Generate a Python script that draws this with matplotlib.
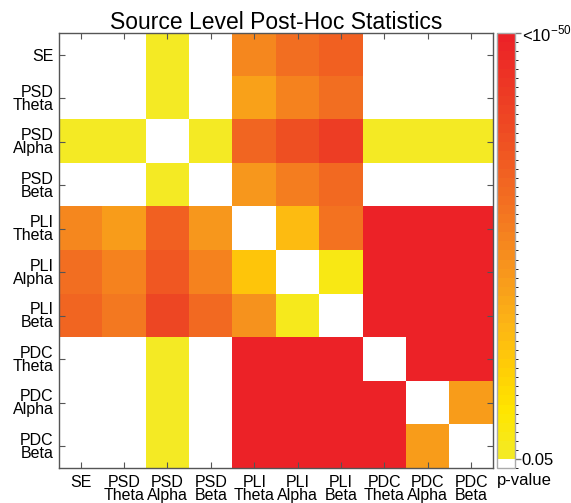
import matplotlib
matplotlib.use('Agg')
import matplotlib.pyplot as plt
import numpy as np
from matplotlib.colors import ListedColormap, BoundaryNorm, LinearSegmentedColormap

plt.rcParams['font.family'] = ['Liberation Sans', 'DejaVu Sans']
plt.rcParams['mathtext.fontset'] = 'custom'
plt.rcParams['mathtext.rm'] = 'Liberation Sans'

labels = ['SE', 'PSD\nTheta', 'PSD\nAlpha', 'PSD\nBeta', 'PLI\nTheta',
          'PLI\nAlpha', 'PLI\nBeta', 'PDC\nTheta', 'PDC\nAlpha', 'PDC\nBeta']

# -log10(p) of each comparison, 0 = not significant (p > 0.05), 60 = p < 1e-50
neglogp = np.array([
    [0,  0,  2,  0, 26, 31, 34,  0,  0,  0],
    [0,  0,  2,  0, 20, 27, 31,  0,  0,  0],
    [2,  2,  0,  2, 33, 38, 42,  2,  2,  2],
    [0,  0,  2,  0, 23, 28, 32,  0,  0,  0],
    [26, 22, 34, 23, 0, 15, 30, 60, 60, 60],
    [31, 27, 36, 27, 13, 0,  4, 60, 60, 60],
    [33, 29, 40, 32, 24, 3,  0, 60, 60, 60],
    [0,  0,  2,  0, 60, 60, 60,  0, 60, 60],
    [0,  0,  2,  0, 60, 60, 60, 60,  0, 22],
    [0,  0,  2,  0, 60, 60, 60, 60, 22,  0],
])

p_thresh = -np.log10(0.05)
p_top = 50

# yellow -> orange -> red colour scale, white below threshold
grad = LinearSegmentedColormap.from_list('yr', [
    (0.0, '#f4ea24'), (0.1, '#ffe600'), (0.2, '#ffcf05'), (0.3, '#fdb714'),
    (0.45, '#f7941d'), (0.6, '#f37021'), (0.8, '#ee4723'), (1.0, '#ec2227')])
nb = 47
cols = ['white'] + [grad(i / (nb - 1)) for i in range(nb)]
cmap = ListedColormap(cols)
bounds = np.concatenate([[0], np.linspace(p_thresh, p_top, nb + 1)])
norm = BoundaryNorm(bounds, cmap.N, clip=True)

fig = plt.figure(figsize=(5.71, 5.03), dpi=100)
ax = fig.add_axes([0.1033, 0.0696, 0.760, 0.865])
im = ax.imshow(neglogp, cmap=cmap, norm=norm, aspect='auto', interpolation='nearest')

ax.set_xticks(range(10))
ax.set_yticks(range(10))
ax.set_xticklabels(labels, fontsize=11.5, linespacing=0.82)
ax.set_yticklabels(labels, fontsize=11.5, linespacing=0.82, ha='right')
ax.tick_params(direction='in', top=True, right=True, length=4, color='#555555')
ax.tick_params(axis='x', pad=5)
ax.tick_params(axis='y', pad=4)
for s in ax.spines.values():
    s.set_color('#555555')
    s.set_linewidth(1)
ax.set_title('Source Level Post-Hoc Statistics', fontsize=16.5, pad=3)

cax = fig.add_axes([0.870, 0.0696, 0.0315, 0.865])
cb = fig.colorbar(im, cax=cax, ticks=[p_thresh, p_top])
cb.ax.set_yticklabels(['0.05', r'<10$^{-50}$'], fontsize=12)
cb.ax.tick_params(length=4, color='#777777', width=1, pad=1)
cb.outline.set_edgecolor('#aaaaaa')
cb.outline.set_linewidth(1)
cb.ax.text(0, -0.012, 'p-value', transform=cb.ax.transAxes, ha='left', va='top', fontsize=12)

fig.savefig('out.png', dpi=100)
